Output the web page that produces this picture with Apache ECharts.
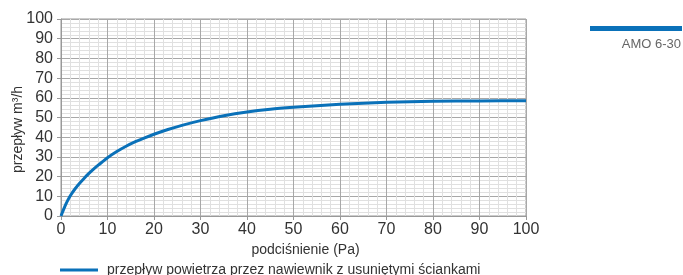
<!DOCTYPE html>
<html>
<head>
<meta charset="utf-8">
<script src="https://cdn.jsdelivr.net/npm/echarts@6/dist/echarts.min.js"></script>
<style>
  html, body { margin: 0; padding: 0; background: #fff; }
  #chart { width: 683px; height: 275px; }
</style>
</head>
<body>
<div id="chart"></div>
<script>
    // podciśnienie (Pa) -> przepływ (m3/h)
    var pressure = [0, 0.5, 1, 1.5, 2, 3, 4, 5, 6, 7, 8, 9, 10, 12, 14, 16, 18, 20, 23, 26, 30, 35, 40, 45, 50, 55, 60, 70, 80, 90, 100];
    var flow = [0, 3, 5.8, 8.2, 10.3, 13.7, 16.6, 19.2, 21.6, 23.8, 25.8, 27.7, 29.6, 32.7, 35.4, 37.7, 39.7, 41.5, 43.9, 46, 48.4, 50.9, 52.8, 54.2, 55.2, 56, 56.7, 57.7, 58.2, 58.4, 58.5];
    var seriesName = 'przepływ powietrza przez nawiewnik z usuniętymi ściankami';
    var modelName = 'AMO 6-30';

    var lineColor = '#0a71b9';
    var font = '"Liberation Sans Narrow", "Liberation Sans", Arial, sans-serif';

    var points = pressure.map(function (p, i) { return [p, flow[i]]; });

    var chart = echarts.init(document.getElementById('chart'));

    //osie z siatką główną i pomocniczą
    var axisCommon = {
        type: 'value',
        min: 0,
        max: 100,
        interval: 10,
        axisLine: { show: true, lineStyle: { color: '#999', width: 1 } },
        axisTick: { show: true, length: 4, lineStyle: { color: '#999' } },
        axisLabel: { fontFamily: font, fontSize: 16, color: '#333' },
        splitLine: { show: true, lineStyle: { color: '#a8a8a8', width: 1 } },
        minorTick: { show: false, splitNumber: 5 },
        minorSplitLine: { show: true, lineStyle: { color: '#e0e0e0', width: 1 } }
    };

    var option = {
        backgroundColor: '#fff',
        animation: false,
        grid: {
            left: 61, right: 157, top: 19, bottom: 59,
            outerBoundsMode: 'none',
            show: true, borderColor: '#999', borderWidth: 1
        },
        legend: {
            left: 55,
            top: 258,
            itemWidth: 38,
            itemHeight: 3,
            itemGap: 10,
            icon: 'rect',
            textStyle: { fontFamily: font, fontSize: 14, color: '#333', padding: [0, 0, 0, 4] },
            data: [seriesName]
        },
        xAxis: echarts.util.merge({
            name: 'podciśnienie (Pa)',
            nameLocation: 'middle',
            nameGap: 26,
            nameTextStyle: { fontFamily: font, fontSize: 14, color: '#333', padding: [0, 0, 0, 24] },
            axisLabel: { margin: 6 }
        }, axisCommon, false),
        yAxis: echarts.util.merge({
            name: 'przepływ m³/h',
            nameLocation: 'middle',
            nameGap: 36,
            nameMoveOverlap: false,
            nameTextStyle: { fontFamily: font, fontSize: 14, color: '#333', padding: [0, 24, 0, 0] },
            axisLabel: { margin: 8 }
        }, axisCommon, false),
        graphic: [
            { type: 'rect', right: 1, top: 26, shape: { width: 92, height: 5 }, style: { fill: lineColor } },
            { type: 'text', right: 2, top: 38, style: { text: modelName, fontFamily: font, fontSize: 13, fill: '#666' } }
        ],
        series: [{
            name: seriesName,
            type: 'line',
            smooth: 0.25,
            showSymbol: false,
            symbol: 'none',
            lineStyle: { color: lineColor, width: 3 },
            itemStyle: { color: lineColor },
            data: points
        }]
    };

    chart.setOption(option);
</script>
</body>
</html>
